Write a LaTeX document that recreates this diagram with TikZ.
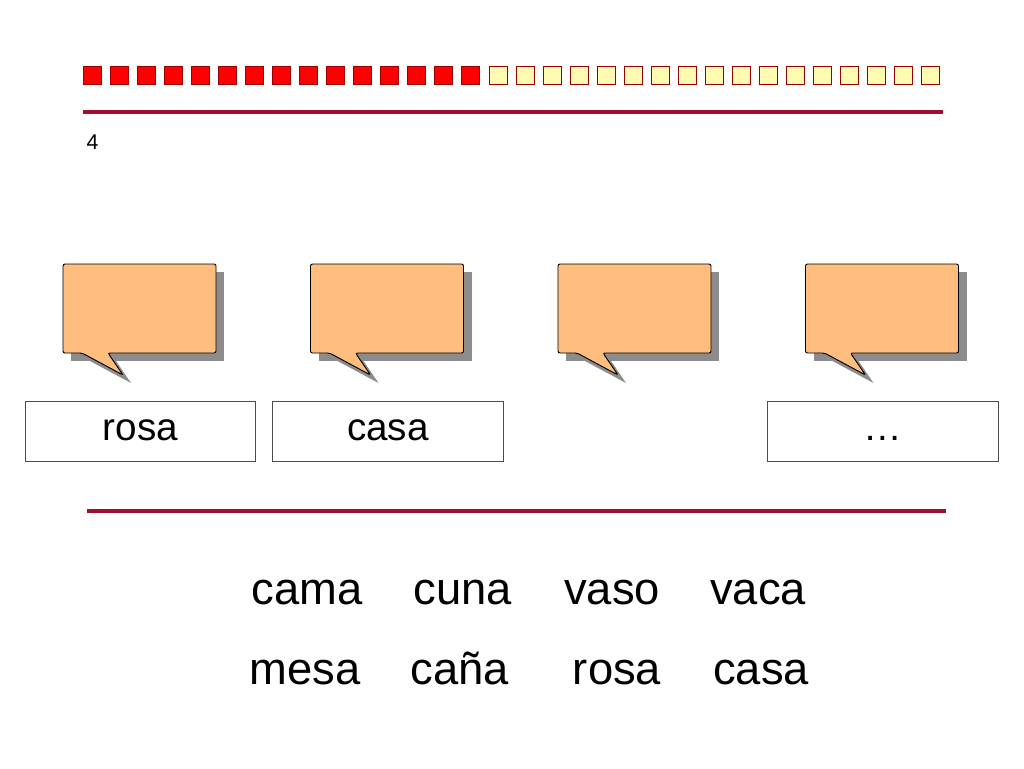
\documentclass[tikz,border=0pt]{standalone}
\usepackage{fontspec}
\setmainfont{Liberation Sans}
\begin{document}
\begin{tikzpicture}[x=0.75pt,y=-0.75pt,
  redsq/.style={draw=red!60!black,fill=red,line width=0.6pt},
  yelsq/.style={draw=red!60!black,fill=yellow!30,line width=0.6pt},
  rule/.style={draw={rgb,255:red,160;green,16;blue,42},line width=2.4pt},
  lab/.style={draw=black!70,line width=0.6pt,minimum width=173pt,minimum height=45pt,text height=20pt,text depth=6pt,font=\fontsize{29}{32}\selectfont},
  word/.style={anchor=base,font=\fontsize{34}{38}\selectfont}]
\useasboundingbox[fill=white] (0,0) rectangle (1024,768);
\foreach \i in {0,...,14} \draw[redsq] ({83+27.06*\i},66) rectangle ++(18,18);
\foreach \i in {15,...,31} \draw[yelsq] ({83+27.06*\i},66) rectangle ++(18,18);
\draw[rule] (83,112) coordinate (t1) -- (943,112) coordinate (t2);
\node[anchor=west,font=\fontsize{16}{18}\selectfont] (num) at (82,142) {4};
\foreach \k in {0,1,2,3}{
  \begin{scope}[shift={({247.5*\k},0)}]
  \fill[gray!90] (71,272) rectangle (224,361);
  \fill[gray!90] (90,361) -- (131,383) -- (116,361) -- cycle;
  \draw[fill={rgb,255:red,255;green,190;blue,125},line width=0.7pt,rounded corners=1.5pt]
    (63,264) -- (216,264) -- (216,353) -- (108,353) -- (123,375) -- (82,353) -- (63,353) -- cycle;
  \end{scope}}
\node[lab] (l1) at (140.5,431) {rosa};
\node[lab] (l2) at (388,431) {casa};
\node[lab] (l4) at (883,431) {…};
\draw[rule] (87,511) coordinate (b1) -- (946,511) coordinate (b2);
\node[word] (w1) at (307,604) {cama};
\node[word] (w2) at (463,604) {cuna};
\node[word] (w3) at (612,604) {vaso};
\node[word] (w4) at (758,604) {vaca};
\node[word] (w5) at (305,684) {mesa};
\node[word] (w6) at (460,684) {caña};
\node[word] (w7) at (617,684) {rosa};
\node[word] (w8) at (761,684) {casa};
\end{tikzpicture}
\end{document}
